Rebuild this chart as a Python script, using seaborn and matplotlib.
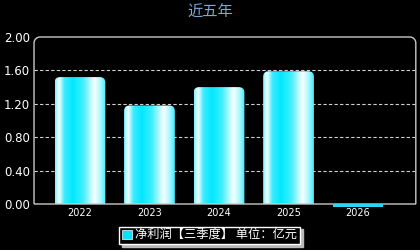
import numpy as np
import pandas as pd
import seaborn as sns
import matplotlib.pyplot as plt
from matplotlib.patches import FancyBboxPatch, Rectangle, Patch, PathPatch
from matplotlib.path import Path
from matplotlib.colors import LinearSegmentedColormap

years = ["2022", "2023", "2024", "2025", "2026"]
profit = [1.52, 1.18, 1.40, 1.59, -0.03]
yticks = [0.0, 0.4, 0.8, 1.2, 1.6, 2.0]
legend_label = "净利润【三季度】 单位：亿元"

sns.set_style("dark")
plt.rcParams['font.family'] = ['Noto Sans CJK SC', 'DejaVu Sans']

df = pd.DataFrame({"year": years, "profit": profit})

fig = plt.figure(figsize=(4.2, 2.5), dpi=100, facecolor="black")
ax = fig.add_axes([0.081, 0.184, 0.909, 0.668])
ax.set_facecolor("black")

sns.barplot(data=df, x="year", y="profit", color="#00e5ff", width=0.73,
            saturation=1, ax=ax)

ax.set_yticks(yticks)
ax.set_yticklabels(["%.2f" % v for v in yticks], color="white", fontsize=8.5,
                   family="DejaVu Sans")
ax.tick_params(axis="x", colors="white", labelsize=7, length=0, pad=3)
ax.tick_params(axis="y", colors="white", length=0, pad=3)
for lab in ax.get_xticklabels():
    lab.set_family("DejaVu Sans")
ax.set_xlabel("")
ax.set_ylabel("")
ax.grid(False)
for v in yticks[1:-1]:
    ax.axhline(v, color="#d0d0d0", lw=0.8, ls=(0, (3, 2)), zorder=0.5)

# frame: square bottom, rounded top corners
for sp in ax.spines.values():
    sp.set_visible(False)
rx, ry = 6 / 382, 6 / 167
k = 0.45
verts = [(0, 0), (0, 1 - ry),
         (0, 1 - ry * k), (rx * k, 1), (rx, 1),
         (1 - rx, 1),
         (1 - rx * k, 1), (1, 1 - ry * k), (1, 1 - ry),
         (1, 0), (0, 0)]
codes = [Path.MOVETO, Path.LINETO,
         Path.CURVE4, Path.CURVE4, Path.CURVE4,
         Path.LINETO,
         Path.CURVE4, Path.CURVE4, Path.CURVE4,
         Path.LINETO, Path.LINETO]
ax.add_patch(PathPatch(Path(verts, codes), transform=ax.transAxes, fill=False,
                       ec="#c8c8c8", lw=1, clip_on=False, zorder=3))

cmap = LinearSegmentedColormap.from_list("glow", [
    (0.0, "#7ff4ff"), (0.08, "#f4ffff"), (0.18, "#40ecff"), (0.35, "#00e8ff"),
    (0.55, "#40efff"), (0.78, "#f8ffff"), (0.9, "#a8f8ff"), (1.0, "#40ecff")])
grad = np.linspace(0, 1, 200).reshape(1, -1)

for p in list(ax.patches):
    if not isinstance(p, Rectangle):
        continue
    x0, w, h = p.get_x(), p.get_width(), p.get_height()
    if h <= 0:
        p.set_clip_on(False)
        p.set_facecolor("#2ad6f0")
        p.set_edgecolor("none")
        p.set_zorder(4)
        continue
    p.set_visible(False)
    clip = FancyBboxPatch((x0, -0.2), w, h + 0.2,
                          boxstyle="round,pad=0,rounding_size=0.08",
                          mutation_aspect=0.83, transform=ax.transData,
                          fc="none", ec="none")
    ax.add_patch(clip)
    im = ax.imshow(grad, cmap=cmap, aspect="auto", extent=(x0, x0 + w, 0, h),
                   zorder=2, interpolation="bilinear")
    im.set_clip_path(clip)

ax.set_xlim(-0.66, 4.83)
ax.set_ylim(0, 2.0)

fig.text(0.5, 0.95, "近五年", color="#7aa6d8", fontsize=11, ha="center", va="center")

handle = Patch(facecolor="#00e5ff", edgecolor="white", lw=0.5)
leg = ax.legend([handle], [legend_label], loc="upper center",
                bbox_to_anchor=(0.46, -0.135), frameon=True,
                fontsize=8.8, handlelength=0.8, handleheight=0.8, handletextpad=0.3,
                borderpad=0.2, borderaxespad=0, fancybox=False,
                shadow={"color": "#b8b8b8", "alpha": 1, "ox": 2, "oy": -2})
leg.get_frame().set_facecolor("black")
leg.get_frame().set_edgecolor("white")
for t in leg.get_texts():
    t.set_color("white")

fig.savefig("out.png", dpi=100, facecolor="black")
